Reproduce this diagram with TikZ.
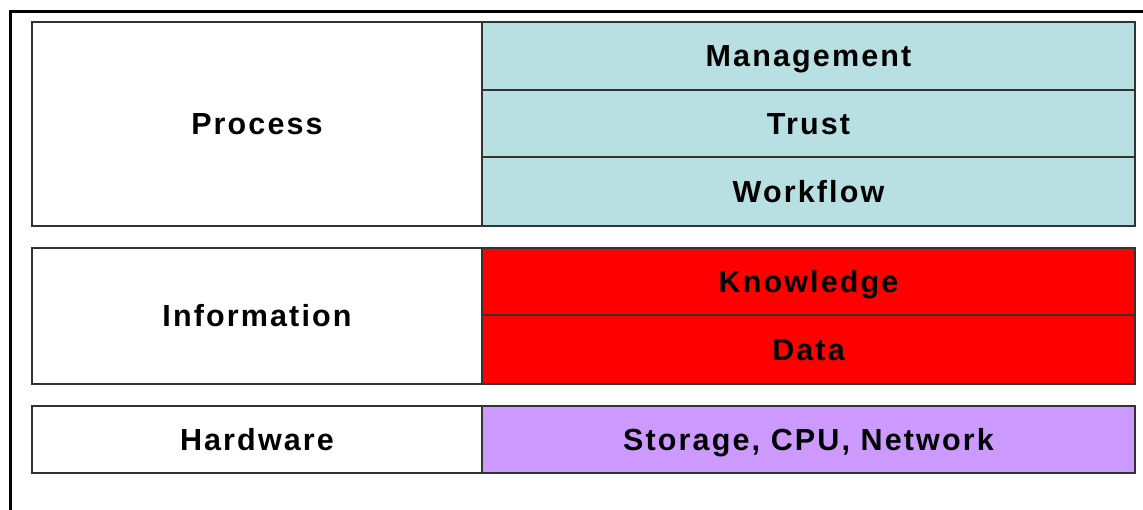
\documentclass[tikz,border=0pt]{standalone}
\usepackage{fontspec}
\setmainfont{Liberation Sans}[LetterSpace=7]
\begin{document}
\begin{tikzpicture}[x=1pt,y=-1pt,
  cell/.style={draw=cellline, line width=2pt, rectangle, inner sep=0pt,
    font=\fontsize{30.5}{34}\selectfont\bfseries, text=black,
    text height=21.8pt, text depth=0pt},
  wide/.style={cell, minimum width=450pt},
  right/.style={cell, minimum width=653pt}
]
\definecolor{cellline}{HTML}{333333}
\definecolor{procblue}{HTML}{B8DFE2}
\definecolor{infored}{HTML}{FF0000}
\definecolor{hwpurple}{HTML}{CC99FF}
\useasboundingbox (0,0) rectangle (1143,509);
% outer frame, running off the right and bottom edges
\draw[line width=3pt, black] (1150,11) -- (10.5,11) -- (10.5,515);

% process layer
\node[wide, minimum height=204pt] (proc) at (257,124) {Process};
\node[right, fill=procblue, minimum height=68pt] (mgmt) at (808.5,56) {Management};
\node[right, fill=procblue, minimum height=67pt] (trust) at (808.5,123.5) {Trust};
\node[right, fill=procblue, minimum height=69pt] (work) at (808.5,191.5) {Workflow};

% information layer
\node[wide, minimum height=136pt] (info) at (257,316) {Information};
\node[right, fill=infored, minimum height=67pt] (know) at (808.5,281.5) {Knowledge};
\node[right, fill=infored, minimum height=69pt] (data) at (808.5,349.5) {Data};

% hardware layer
\node[wide, minimum height=67pt] (hw) at (257,439.5) {Hardware};
\node[right, fill=hwpurple, minimum height=67pt] (stor) at (808.5,439.5) {Storage, CPU, Network};
\end{tikzpicture}
\end{document}
